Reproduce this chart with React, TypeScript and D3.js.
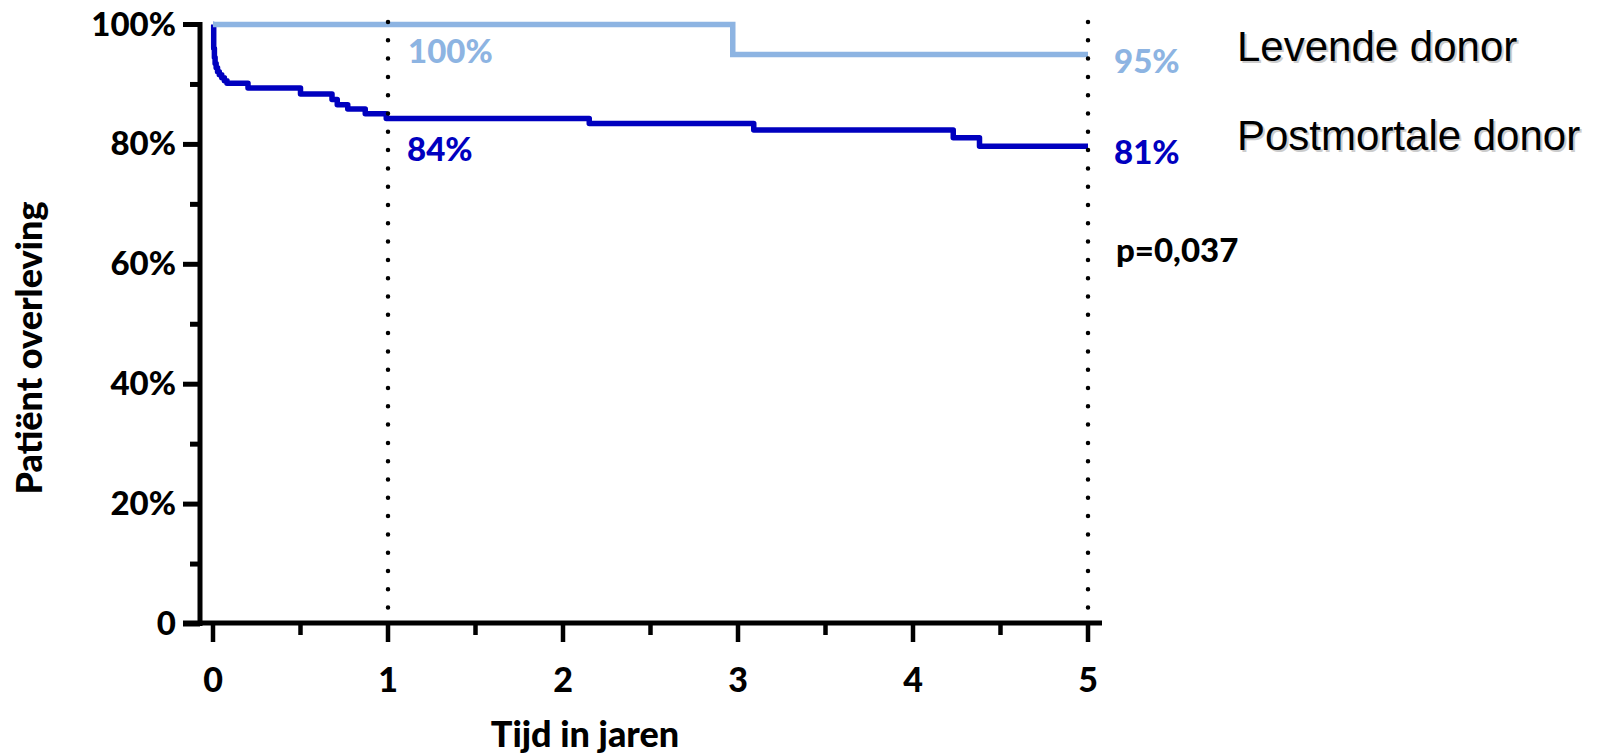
import React, { useRef, useEffect } from 'react'
import * as d3 from 'd3'

// Kaplan-Meier steps (years, survival fraction)
const levendeTimes = [0, 2.97]
const levendeSurv = [1.0, 0.95]

const postmortaleTimes = [0, 0.004, 0.008, 0.012, 0.018, 0.026, 0.036, 0.05, 0.065, 0.08, 0.2, 0.5, 0.68, 0.71, 0.77, 0.87, 0.99, 2.15, 3.09, 4.23, 4.38]
const postmortaleSurv = [1.0, 0.96, 0.945, 0.935, 0.928, 0.921, 0.916, 0.911, 0.906, 0.902, 0.894, 0.884, 0.875, 0.866, 0.859, 0.851, 0.843, 0.835, 0.824, 0.811, 0.797]

const xTicks = [0, 1, 2, 3, 4, 5]
const xMinorTicks = [0.5, 1.5, 2.5, 3.5, 4.5]
const yTicks = [0, 0.2, 0.4, 0.6, 0.8, 1.0]
const yTickLabels = ['0', '20%', '40%', '60%', '80%', '100%']
const yMinorTicks = [0.1, 0.3, 0.5, 0.7, 0.9]
const markerYears = [1, 5]

const annotations = [
  { text: '100%', year: 1, color: '#8db4e2', dx: 20, y: 63 },
  { text: '84%', year: 1, color: '#0000bf', dx: 19, y: 161 },
  { text: '95%', year: 5, color: '#8db4e2', dx: 26, y: 73 },
  { text: '81%', year: 5, color: '#0000bf', dx: 26, y: 164 },
  { text: 'p=0,037', year: 5, color: '#000', dx: 28, y: 262 },
]
const legendLabels = ['Levende donor', 'Postmortale donor']

const layout = { width: 1602, height: 754, x0: 213, x1: 1088, y0: 624, y1: 24.5, axisX: 200 }
const bold = 'Lato, "Open Sans", sans-serif'
const weight = 900

export default function App() {
  const ref = useRef<SVGSVGElement>(null)

  useEffect(() => {
    const svg = d3.select(ref.current)
    svg.selectAll('*').remove()

    const x = d3.scaleLinear().domain([0, 5]).range([layout.x0, layout.x1])
    const y = d3.scaleLinear().domain([0, 1]).range([layout.y0, layout.y1])

    const line = d3.line<[number, number]>()
      .x(d => x(d[0]))
      .y(d => y(d[1]))
      .curve(d3.curveStepAfter)

    const toPts = (ts: number[], ss: number[]): [number, number][] => {
      const pts = ts.map((t, i) => [t, ss[i]] as [number, number])
      pts.push([5, ss[ss.length - 1]])
      return pts
    }

    // curves
    svg.append('path')
      .attr('d', line(toPts(postmortaleTimes, postmortaleSurv)))
      .attr('fill', 'none')
      .attr('stroke', '#0000bf')
      .attr('stroke-width', 5.5)
      .attr('stroke-linejoin', 'round')

    svg.append('path')
      .attr('d', line(toPts(levendeTimes, levendeSurv)))
      .attr('fill', 'none')
      .attr('stroke', '#8db4e2')
      .attr('stroke-width', 5.5)

    // dotted markers at 1 and 5 years
    svg.selectAll('.marker')
      .data(markerYears)
      .join('line')
      .attr('class', 'marker')
      .attr('x1', d => x(d)).attr('x2', d => x(d))
      .attr('y1', 22).attr('y2', layout.y0)
      .attr('stroke', '#000')
      .attr('stroke-width', 4.5)
      .attr('stroke-linecap', 'round')
      .attr('stroke-dasharray', '0 18.3')

    // y axis
    const yAxis = svg.append('g')
    yAxis.append('line')
      .attr('x1', layout.axisX).attr('x2', layout.axisX)
      .attr('y1', y(1) - 2.5).attr('y2', layout.y0 + 2)
      .attr('stroke', '#000').attr('stroke-width', 5)
    yAxis.selectAll('.ymaj').data(yTicks).join('line')
      .attr('class', 'ymaj')
      .attr('x1', layout.axisX - 17).attr('x2', layout.axisX)
      .attr('y1', d => y(d)).attr('y2', d => y(d))
      .attr('stroke', '#000').attr('stroke-width', 5)
    yAxis.selectAll('.ymin').data(yMinorTicks).join('line')
      .attr('class', 'ymin')
      .attr('x1', layout.axisX - 10).attr('x2', layout.axisX)
      .attr('y1', d => y(d)).attr('y2', d => y(d))
      .attr('stroke', '#000').attr('stroke-width', 5)
    yAxis.selectAll('.ylab').data(yTicks).join('text')
      .attr('class', 'ylab')
      .attr('x', layout.axisX - 24)
      .attr('y', d => y(d) + 11)
      .attr('text-anchor', 'end')
      .attr('font-family', bold).attr('font-weight', weight).attr('font-size', 33)
      .text((d, i) => yTickLabels[i])

    // x axis
    const xAxis = svg.append('g')
    xAxis.append('line')
      .attr('x1', layout.axisX - 17).attr('x2', layout.x1 + 14)
      .attr('y1', layout.y0 - 1).attr('y2', layout.y0 - 1)
      .attr('stroke', '#000').attr('stroke-width', 5)
    xAxis.selectAll('.xmaj').data(xTicks).join('line')
      .attr('class', 'xmaj')
      .attr('x1', d => x(d)).attr('x2', d => x(d))
      .attr('y1', layout.y0).attr('y2', layout.y0 + 18)
      .attr('stroke', '#000').attr('stroke-width', 4.5)
    xAxis.selectAll('.xmin').data(xMinorTicks).join('line')
      .attr('class', 'xmin')
      .attr('x1', d => x(d)).attr('x2', d => x(d))
      .attr('y1', layout.y0).attr('y2', layout.y0 + 11)
      .attr('stroke', '#000').attr('stroke-width', 4.5)
    xAxis.selectAll('.xlab').data(xTicks).join('text')
      .attr('class', 'xlab')
      .attr('x', d => x(d))
      .attr('y', 692)
      .attr('text-anchor', 'middle')
      .attr('font-family', bold).attr('font-weight', weight).attr('font-size', 34)
      .text(d => d)

    // axis titles
    svg.append('text')
      .attr('x', 585).attr('y', 747)
      .attr('text-anchor', 'middle')
      .attr('font-family', bold).attr('font-weight', weight).attr('font-size', 36)
      .text('Tijd in jaren')
    svg.append('text')
      .attr('transform', 'translate(42,348) rotate(-90)')
      .attr('text-anchor', 'middle')
      .attr('font-family', bold).attr('font-weight', weight).attr('font-size', 36)
      .text('Patiënt overleving')

    // annotations
    svg.selectAll('.anno').data(annotations).join('text')
      .attr('class', 'anno')
      .attr('x', d => x(d.year) + d.dx)
      .attr('y', d => d.y)
      .attr('fill', d => d.color)
      .attr('font-family', bold).attr('font-weight', weight).attr('font-size', 33)
      .text(d => d.text)

    // legend labels with a soft shadow
    const legY = [61, 150]
    legendLabels.forEach((lab, i) => {
      svg.append('text')
        .attr('x', 1239).attr('y', legY[i] + 2)
        .attr('fill', '#cccccc')
        .attr('font-family', '"Liberation Sans", Arial, sans-serif').attr('font-size', 42)
        .text(lab)
      svg.append('text')
        .attr('x', 1237).attr('y', legY[i])
        .attr('fill', '#000')
        .attr('font-family', '"Liberation Sans", Arial, sans-serif').attr('font-size', 42)
        .text(lab)
    })
  }, [])

  return (
    <svg ref={ref} width={layout.width} height={layout.height}
      style={{ position: 'absolute', left: 0, top: 0, background: '#fff' }} />
  )
}
